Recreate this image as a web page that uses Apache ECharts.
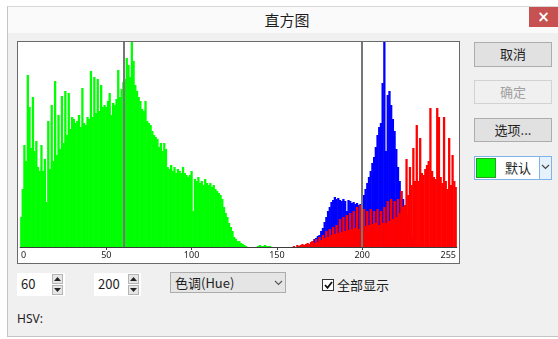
<!DOCTYPE html>
<html><head><meta charset="utf-8">
<script src="https://cdn.jsdelivr.net/npm/echarts@6/dist/echarts.min.js"></script>
<style>
body{margin:0;width:558px;height:339px;background:#fff;position:relative;overflow:hidden;font-family:"Noto Sans CJK SC","Noto Sans",sans-serif;color:#1e1e1e;}
.a{position:absolute;box-sizing:border-box;}
.btn{background:#e1e1e1;border:1px solid #adadad;font-size:13px;text-align:center;line-height:22px;}
.spin{background:#fff;font-size:13px;line-height:22px;padding-left:4px;}
.sb{background:#e6e6e6;border:1px solid #b4b4b4;width:11px;height:10px;}
</style></head>
<body>
<div class="a" style="left:7px;top:6px;width:551px;height:331px;background:#f0f0f0;border-left:1px solid #c4c4c4;border-top:1px solid #d8d8d8;border-bottom:1px solid #c4c4c4;"></div>
<div class="a" style="left:8px;top:7px;width:550px;height:26px;background:#fafafa;"></div>
<div class="a" id="title" style="left:187px;top:9px;width:200px;text-align:center;font-size:15px;line-height:22px;"></div>
<div class="a" style="left:529px;top:7px;width:29px;height:20px;background:#c75050;color:#fff;text-align:center;font-size:15px;line-height:20px;font-weight:bold;font-family:'DejaVu Sans';">×</div>

<div class="a" style="left:17px;top:41px;width:443px;height:223px;border:1px solid #6a6a6a;background:#fff;"></div>
<div class="a" id="chart" style="left:18px;top:42px;width:441px;height:221px;"></div>

<div class="a btn" style="left:474px;top:42px;width:78px;height:25px;" id="b1"></div>
<div class="a btn" style="left:474px;top:80px;width:78px;height:24px;background:#f0f0f0;border-color:#d2d2d2;color:#a0a0a0;" id="b2"></div>
<div class="a btn" style="left:474px;top:118px;width:78px;height:24px;" id="b3"></div>
<div class="a" style="left:474px;top:156px;width:78px;height:24px;border:1px solid #7eb4ea;background:#fff;"></div>
<div class="a" style="left:476px;top:158px;width:20px;height:20px;background:#00ff00;border:1px solid #2a9a2a;"></div>
<div class="a" id="c1" style="left:498px;top:157px;width:40px;text-align:center;font-size:13px;line-height:22px;"></div>
<div class="a" style="left:539px;top:157px;width:12px;height:22px;background:#e5f1fb;border-left:1px solid #7eb4ea;"></div>
<svg class="a" style="left:541px;top:164px;" width="9" height="6"><polyline points="1,1 4.5,4.5 8,1" fill="none" stroke="#444" stroke-width="1.2"/></svg>

<div class="a spin" id="s1" style="left:17px;top:273px;width:48px;height:23px;"></div>
<div class="a sb" style="left:52px;top:274px;"></div><div class="a sb" style="left:52px;top:285px;"></div>
<svg class="a" style="left:54px;top:277px;" width="7" height="4"><polygon points="0,4 3.5,0 7,4" fill="#222"/></svg>
<svg class="a" style="left:54px;top:288px;" width="7" height="4"><polygon points="0,0 3.5,4 7,0" fill="#222"/></svg>
<div class="a spin" id="s2" style="left:94px;top:273px;width:47px;height:23px;"></div>
<div class="a sb" style="left:128px;top:274px;"></div><div class="a sb" style="left:128px;top:285px;"></div>
<svg class="a" style="left:130px;top:277px;" width="7" height="4"><polygon points="0,4 3.5,0 7,4" fill="#222"/></svg>
<svg class="a" style="left:130px;top:288px;" width="7" height="4"><polygon points="0,0 3.5,4 7,0" fill="#222"/></svg>

<div class="a" style="left:170px;top:272px;width:116px;height:21px;background:#e5e5e5;border:1px solid #acacac;"></div>
<div class="a" id="cb" style="left:175px;top:272px;font-size:13px;line-height:21px;"></div>
<svg class="a" style="left:274px;top:280px;" width="9" height="6"><polyline points="1,1 4.5,4.5 8,1" fill="none" stroke="#555" stroke-width="1.1"/></svg>

<div class="a" style="left:322px;top:279px;width:12px;height:12px;border:1px solid #333;background:#fff;"></div>
<svg class="a" style="left:324px;top:281px;" width="9" height="8"><polyline points="1,4 3.5,6.8 8,1" fill="none" stroke="#111" stroke-width="1.8"/></svg>
<div class="a" id="chk" style="left:337px;top:275px;font-size:13px;line-height:20px;"></div>
<div class="a" id="hsv" style="left:17px;top:311px;font-size:12px;line-height:16px;font-family:'Noto Sans';"></div>

<script>
const titleText = "直方图";
const buttons = ["取消", "确定", "选项...", "默认"];
const channelName = "色调(Hue)";
const showAllText = "全部显示";
const hsvText = "HSV:";
const markers = [60, 200];
const tickLabels = [0, 50, 100, 150, 200, 255];
const bins = Array.from({length: 256}, (_, i) => String(i));

const green = [
 30,58,102,86,172,140,99,150,96,106,80,76,102,76,88,45,
 126,78,142,86,166,92,132,98,151,104,156,112,154,118,130,128,
 124,126,132,120,159,124,122,130,128,176,130,170,134,168,136,162,
 140,142,140,146,154,132,144,142,148,177,150,158,165,168,189,182,
 170,205,186,162,156,150,146,138,136,146,126,124,122,116,112,110,
 108,100,104,96,104,98,80,78,82,76,80,74,78,76,74,80,
 74,72,70,72,76,36,68,66,70,64,66,62,68,64,62,64,
 60,62,58,56,54,52,48,40,34,30,24,20,16,10,8,6,
 6,4,3,2,1,0,0,0,0,0,0,1,2,1,1,2,
 1,1,1,0,0,0,0,0,0,0,0,0,0,0,0,0,
 0,0,0,0,0,0,0,0,0,0,0,0,0,0,0,0,
 0,0,0,0,0,0,0,0,0,0,0,0,0,0,0,0,
 0,0,0,0,0,0,0,0,0,0,0,0,0,0,0,0,
 0,0,0,0,0,0,0,0,0,0,0,0,0,0,0,0,
 0,0,0,0,0,0,0,0,0,0,0,0,0,0,0,0,
 0,0,0,0,0,0,0,0,0,0,0,0,0,0,0,0
];
const blue = [
 0,0,0,0,0,0,0,0,0,0,0,0,0,0,0,0,
 0,0,0,0,0,0,0,0,0,0,0,0,0,0,0,0,
 0,0,0,0,0,0,0,0,0,0,0,0,0,0,0,0,
 0,0,0,0,0,0,0,0,0,0,0,0,0,0,0,0,
 0,0,0,0,0,0,0,0,0,0,0,0,0,0,0,0,
 0,0,0,0,0,0,0,0,0,0,0,0,0,0,0,0,
 0,0,0,0,0,0,0,0,0,0,0,0,0,0,0,0,
 0,0,0,0,0,0,0,0,0,0,0,0,0,0,0,0,
 0,0,0,0,0,0,0,0,0,0,0,0,0,0,0,0,
 0,0,0,0,0,0,0,0,0,0,0,0,0,0,0,0,
 0,0,0,0,0,0,0,0,0,2,4,6,8,9,11,12,
 16,19,25,30,36,40,45,47,50,48,49,47,46,48,46,36,
 47,46,44,45,43,44,42,43,46,52,58,64,70,76,84,90,
 100,112,120,124,164,205,96,152,156,142,128,116,98,80,66,56,
 48,40,32,24,16,10,6,4,2,0,0,0,0,0,0,0,
 0,0,0,0,0,0,0,0,0,0,0,0,0,0,0,0
];
const red = [
 0,0,0,0,0,0,0,0,0,0,0,0,0,0,0,0,
 0,0,0,0,0,0,0,0,0,0,0,0,0,0,0,0,
 0,0,0,0,0,0,0,0,0,0,0,0,0,0,0,0,
 0,0,0,0,0,0,0,0,0,0,0,0,0,0,0,0,
 0,0,0,0,0,0,0,0,0,0,0,0,0,0,0,0,
 0,0,0,0,0,0,0,0,0,0,0,0,0,0,0,0,
 0,0,0,0,0,0,0,0,0,0,0,0,0,0,0,0,
 0,0,0,0,0,0,0,0,0,0,0,0,0,0,0,0,
 0,0,0,0,0,0,0,0,0,0,0,0,0,0,0,0,
 0,0,0,0,0,0,0,0,0,0,0,0,0,0,0,0,
 1,0,2,1,2,3,2,3,4,3,5,6,4,8,5,10,
 7,12,9,16,10,18,12,20,13,22,14,28,15,30,16,32,
 17,34,18,36,19,40,18,42,20,38,21,36,22,38,23,36,
 24,38,22,36,24,40,24,46,26,48,28,46,30,48,34,56,
 40,42,88,52,80,62,99,66,122,66,109,74,72,78,82,86,
 139,76,70,68,139,130,70,64,130,66,58,109,62,92,66,60
];

document.getElementById('title').textContent = titleText;
document.getElementById('b1').textContent = buttons[0];
document.getElementById('b2').textContent = buttons[1];
document.getElementById('b3').textContent = buttons[2];
document.getElementById('c1').textContent = buttons[3];
document.getElementById('s1').textContent = String(markers[0]);
document.getElementById('s2').textContent = String(markers[1]);
document.getElementById('cb').textContent = channelName;
document.getElementById('chk').textContent = showAllText;
document.getElementById('hsv').textContent = hsvText;

const showIdx = (i) => tickLabels.indexOf(i) >= 0;
const chart = echarts.init(document.getElementById('chart'), null, {renderer: 'canvas'});
const barBase = {type: 'bar', barWidth: 2.3, barGap: '-100%', silent: true, animation: false};
chart.setOption({
  animation: false,
  grid: {left: 0, right: 0, top: 0, height: 205, containLabel: false},
  xAxis: {
    type: 'category', data: bins, boundaryGap: true,
    axisLine: {lineStyle: {color: '#3c3c3c', width: 1}},
    axisTick: {show: true, alignWithLabel: true, length: 3, interval: (i) => showIdx(i) && i !== 0 && i !== 255, lineStyle: {color: '#3c3c3c'}},
    axisLabel: {interval: (i) => showIdx(i), fontSize: 9, color: '#222', margin: 4,
      fontFamily: 'Noto Sans', alignMinLabel: 'left', alignMaxLabel: 'right'},
    splitLine: {show: false}
  },
  yAxis: {type: 'value', min: 0, max: 205, show: false},
  series: [
    Object.assign({}, barBase, {name: 'green', data: green, itemStyle: {color: '#00ff00'},
      markLine: {silent: true, symbol: 'none', label: {show: false},
        lineStyle: {color: '#777777', width: 2, type: 'solid'},
        data: markers.map(m => ({xAxis: String(m)}))}}),
    Object.assign({}, barBase, {name: 'blue', data: blue, itemStyle: {color: '#0000ff'}}),
    Object.assign({}, barBase, {name: 'red', data: red, itemStyle: {color: '#ff0000'}})
  ]
});
</script>
</body></html>
